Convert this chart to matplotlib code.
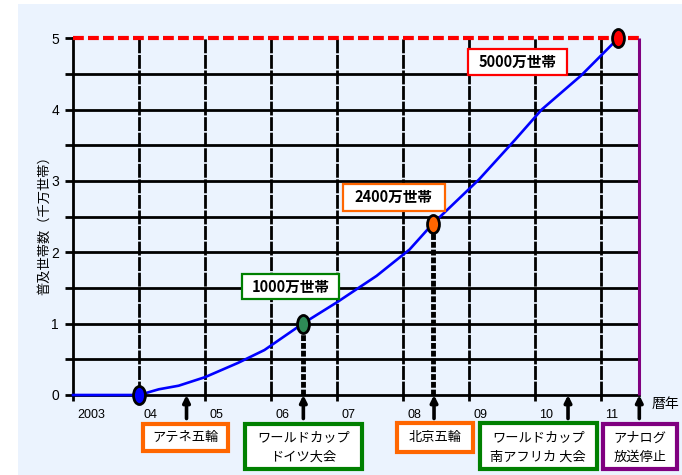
import matplotlib
matplotlib.use("Agg")
import matplotlib.pyplot as plt
import matplotlib.transforms as mtransforms
from matplotlib.path import Path
from matplotlib.patches import Rectangle

plt.rcParams['font.family'] = ['Noto Sans CJK JP', 'DejaVu Sans']

# ---- data ----
years = [2003.0, 2004.0, 2004.3, 2004.6, 2005.0, 2005.5, 2005.9, 2006.48, 2007.0,
         2007.6, 2008.1, 2008.45, 2009.15, 2009.7, 2010.1, 2010.7, 2011.26]
households = [0.0, 0.0, 0.08, 0.13, 0.25, 0.45, 0.63, 1.0, 1.30,
              1.67, 2.04, 2.40, 3.02, 3.58, 4.0, 4.48, 5.0]

milestone_x = [2004.0, 2006.48, 2008.45, 2011.26]
milestone_y = [0.0, 1.0, 2.4, 5.0]
milestone_colors = ['#0000FF', '#2E8B57', '#FF6600', '#FF0000']

value_labels = ['1000万世帯', '2400万世帯', '5000万世帯']
value_colors = ['#008000', '#FF6600', '#FF0000']

event_x = [2004.72, 2006.49, 2008.47, 2010.5, 2011.58]
event_labels = [['アテネ五輪'], ['ワールドカップ', 'ドイツ大会'], ['北京五輪'],
                ['ワールドカップ', '南アフリカ 大会'], ['アナログ', '放送停止']]
event_colors = ['#FF6600', '#008000', '#FF6600', '#008000', '#800080']

tick_years = [2003, 2004, 2005, 2006, 2007, 2008, 2009, 2010, 2011]
tick_labels = ['2003', '04', '05', '06', '07', '08', '09', '10', '11']
target = 5.0
analog_stop = 2011.58

W, H = 682, 475
BG = '#EBF3FE'

fig = plt.figure(figsize=(W / 100, H / 100), dpi=100)
fig.patch.set_facecolor('white')

def fx(x):
    return x / W

def fy(y):
    return 1 - y / H

# light blue panel
fig.add_artist(Rectangle((fx(18), 0), fx(W) - fx(18), fy(4), transform=fig.transFigure,
                         facecolor=BG, edgecolor='none', zorder=-10))

ax = fig.add_axes([fx(73), fy(395), fx(639.3) - fx(73), fy(38.3) - fy(395)])
ax.set_facecolor('none')
ax.set_xlim(2003, analog_stop)
ax.set_ylim(0, 5)

for s in ['top', 'right']:
    ax.spines[s].set_visible(False)
for s in ['left', 'bottom']:
    ax.spines[s].set_linewidth(2.0)
    ax.spines[s].set_color('black')

# grid
for yv in [0.5 * i for i in range(1, 10)]:
    ax.hlines(yv, 2003, analog_stop, color='black', lw=2.0, zorder=1)
for xv in tick_years[1:]:
    ax.vlines(xv, 0, target, color='black', lw=2.0, linestyles=[(0, (5, 0.6))], zorder=1)

# target line and analog stop line
ax.hlines(target, 2003, analog_stop + 0.04, color='#FF0000', lw=3.0,
          linestyles=[(0, (2.6, 1.0))], zorder=3, clip_on=False)
ax.vlines(analog_stop, 0, target, color='#800080', lw=2.2, zorder=3, clip_on=False)

# ticks
ax.set_yticks([0, 1, 2, 3, 4, 5])
ax.set_yticklabels(['0', '1', '2', '3', '4', '5'], fontfamily='Liberation Sans', fontsize=10)
ax.set_yticks([0.5, 1.5, 2.5, 3.5, 4.5], minor=True)
ax.tick_params(axis='y', which='both', length=6, width=2, direction='out', pad=4)
ax.set_xticks(tick_years)
ax.set_xticklabels(tick_labels, fontfamily='Liberation Sans', fontsize=9)
ax.tick_params(axis='x', length=4, width=2, direction='out', pad=6)
off = mtransforms.ScaledTranslation(3 / 72, 0, fig.dpi_scale_trans)
for lab in ax.get_xticklabels():
    lab.set_ha('left')
    lab.set_transform(lab.get_transform() + off)

# dotted drop lines from milestones
for xv, yv in zip(milestone_x[1:3], milestone_y[1:3]):
    ax.vlines(xv, 0, yv, color='black', lw=3.5, linestyles=[(0, (1.2, 0.4))], zorder=4)

# curve
ax.plot(years, households, color='#0000FF', lw=1.9, zorder=5, clip_on=False)

# ellipse markers
ell = Path.unit_circle().transformed(mtransforms.Affine2D().scale(0.66, 1.0))
for xv, yv, c in zip(milestone_x, milestone_y, milestone_colors):
    ax.plot([xv], [yv], marker=ell, ms=13, mfc=c, mec='black', mew=2,
            ls='none', zorder=6, clip_on=False)

# event arrows below axis
for xv in event_x:
    ax.annotate('', xy=(xv, 0.0), xytext=(xv, -0.33),
                arrowprops=dict(arrowstyle='-|>', color='black', lw=2.6,
                                mutation_scale=10, shrinkA=0, shrinkB=0),
                annotation_clip=False, zorder=6)

# axis labels
ax.text(-0.05, 0.485, '普及世帯数（千万世帯）', transform=ax.transAxes, rotation=90,
        ha='center', va='center', fontsize=9.5)
fig.text(fx(665), fy(404), '暦年', ha='center', va='center', fontsize=10)

def box(x0, y0, x1, y1, ec, lw):
    fig.add_artist(Rectangle((fx(x0), fy(y1)), fx(x1) - fx(x0), fy(y0) - fy(y1),
                             transform=fig.transFigure, facecolor='white',
                             edgecolor=ec, lw=lw, zorder=20))

# value labels
vboxes = [(241.7, 274, 339, 299.3), (342.7, 184, 445, 210.7), (468.3, 49.3, 566.7, 75)]
for (x0, y0, x1, y1), t, c in zip(vboxes, value_labels, value_colors):
    box(x0, y0, x1, y1, c, 1.6)
    fig.text(fx((x0 + x1) / 2), fy((y0 + y1) / 2), t, ha='center', va='center',
             fontsize=10.5, fontweight='bold', zorder=21)

# event labels
eboxes = [(143.3, 424, 228.3, 450.7), (245, 424, 361.7, 469.3), (396.7, 423.3, 473.3, 451.7),
          (480, 423.3, 596.7, 469.3), (602.7, 424, 676.7, 469.3)]
for (x0, y0, x1, y1), lines, c in zip(eboxes, event_labels, event_colors):
    box(x0, y0, x1, y1, c, 3.0)
    cx = (x0 + x1) / 2
    if len(lines) == 1:
        fig.text(fx(cx), fy((y0 + y1) / 2), lines[0], ha='center', va='center',
                 fontsize=9.5, zorder=21)
    else:
        fig.text(fx(cx), fy(438), lines[0], ha='center', va='center', fontsize=9.5, zorder=21)
        fig.text(fx(cx), fy(457), lines[1], ha='center', va='center', fontsize=9.5, zorder=21)

fig.savefig('out.png', dpi=100, facecolor=fig.get_facecolor())
